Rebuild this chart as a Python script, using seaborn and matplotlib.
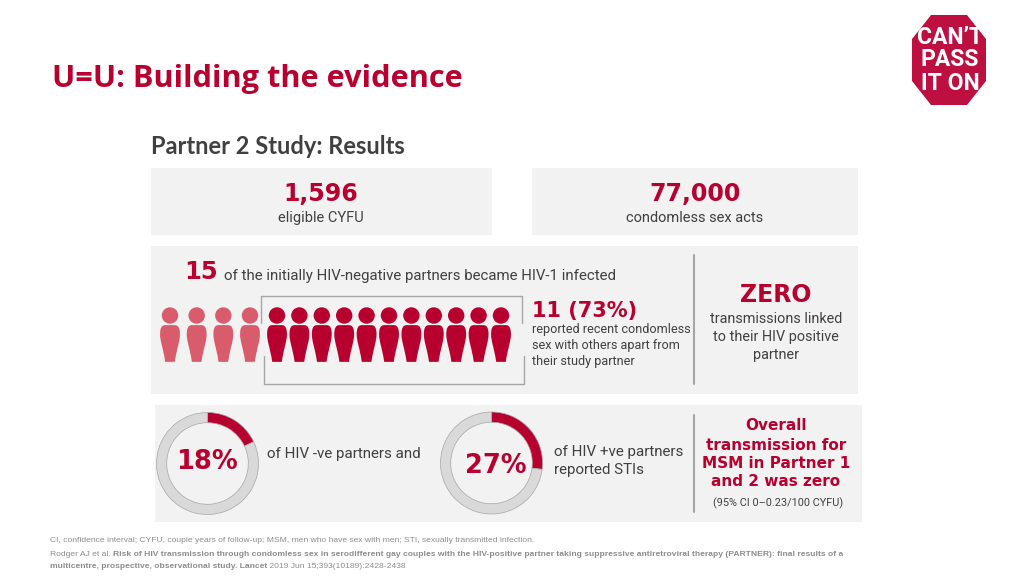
import matplotlib
matplotlib.use('Agg')
import matplotlib.pyplot as plt
from matplotlib.patches import Rectangle, Polygon
from matplotlib.path import Path
import numpy as np
import pandas as pd
import seaborn as sns

# values on the slide
eligible_cyfu = '1,596'
sex_acts = '77,000'
infected_total = 15
recent_condomless = 11
hiv_neg_sti_pct = 18
hiv_pos_sti_pct = 27

RED = '#B8002F'
LIGHT_RED = '#D95C6C'
PANEL = '#F2F2F2'
TEXT = '#404040'
GREY = '#A6A6A6'

sns.set_theme(style='white')
plt.rcParams['font.family'] = ['Roboto', 'DejaVu Sans']

W, H = 1024, 576
fig = plt.figure(figsize=(W / 100, H / 100), dpi=100, facecolor='white')

# whole figure is one axes in pixel units
ax = fig.add_axes([0, 0, 1, 1])
ax.set_xlim(0, W)
ax.set_ylim(H, 0)
ax.axis('off')

# panels
for x0, y0, x1, y1 in [(151, 168, 492, 235), (532, 168, 858, 235),
                       (151, 246, 858, 394), (155, 405, 862, 522)]:
    ax.add_patch(Rectangle((x0, y0), x1 - x0, y1 - y0, color=PANEL, lw=0, zorder=0))

# title
ax.text(52, 79.5, 'U=U: Building the evidence', color=RED, fontsize=22.15, fontweight='bold',
        family='Open Sans', va='center')
ax.text(151, 147, 'Partner 2 Study: Results', color=TEXT, fontsize=17, fontweight='bold',
        family='Lato', va='center')

# logo
cx, cy = 949, 60
lr, ls = 37, 18
ax.add_patch(Polygon([(cx - ls, cy - 45), (cx + ls, cy - 45), (cx + lr, cy - 21), (cx + lr, cy + 21),
                      (cx + ls, cy + 45), (cx - ls, cy + 45), (cx - lr, cy + 21), (cx - lr, cy - 21)],
                     color='#BE1040', lw=0))
for label, ly in [('CAN\u2019T', 37), ('PASS', 60), ('IT ON', 84)]:
    ax.text(cx + 1, ly, label, color='white', fontsize=16.5, fontweight='bold', family='Roboto',
            ha='center', va='center')

# top boxes
ax.text(321, 194, eligible_cyfu, color=RED, fontsize=17, fontweight='bold', family='DejaVu Sans',
        ha='center', va='center')
ax.text(321, 218, 'eligible CYFU', color=TEXT, fontsize=10.5, ha='center', va='center')
ax.text(695, 194, sex_acts, color=RED, fontsize=17, fontweight='bold', family='DejaVu Sans',
        ha='center', va='center')
ax.text(695, 218, 'condomless sex acts', color=TEXT, fontsize=10.5, ha='center', va='center')

# middle panel text
ax.text(184, 272, str(infected_total), color=RED, fontsize=17.5, fontweight='bold',
        family='DejaVu Sans', va='center')
ax.text(224, 276, 'of the initially HIV-negative partners became HIV-1 infected', color=TEXT,
        fontsize=10.85, va='center')
ax.text(532, 311, f'{recent_condomless} (73%)', color=RED, fontsize=15, fontweight='bold',
        family='DejaVu Sans', va='center')
for line, ly in zip(['reported recent condomless', 'sex with others apart from', 'their study partner'],
                    [330, 345.5, 361]):
    ax.text(532, ly, line, color=TEXT, fontsize=9.1, va='center')
ax.text(776, 295, 'ZERO', color=RED, fontsize=17, fontweight='bold', family='DejaVu Sans',
        ha='center', va='center')
for line, ly in zip(['transmissions linked', 'to their HIV positive', 'partner'], [319, 337, 355]):
    ax.text(776, ly, line, color=TEXT, fontsize=10.4, ha='center', va='center')

# people, the ones in the bracket are darker
M, C = Path.MOVETO, Path.CURVE4
body = Path([(-0.13, 0.5), (-0.24, 0.5), (-0.27, 0.4), (-0.27, 0.25),
             (-0.27, 0.05), (-0.19, -0.1), (-0.13, -0.5),
             (0.13, -0.5),
             (0.19, -0.1), (0.27, 0.05), (0.27, 0.25),
             (0.27, 0.4), (0.24, 0.5), (0.13, 0.5),
             (-0.13, 0.5)],
            [M, C, C, C, C, C, C, Path.LINETO, C, C, C, C, C, C, Path.CLOSEPOLY])
n_light = infected_total - recent_condomless
people = pd.DataFrame({
    'x': np.r_[np.linspace(170, 250, n_light), np.linspace(277, 501, recent_condomless)],
    'group': ['other'] * n_light + ['recent'] * recent_condomless,
})
palette = {'other': LIGHT_RED, 'recent': RED}
people['head_y'] = 315.5
people['body_y'] = 343.5
sns.scatterplot(data=people, x='x', y='head_y', hue='group', palette=palette, s=140, linewidth=0,
                legend=False, ax=ax, zorder=3)
sns.scatterplot(data=people, x='x', y='body_y', hue='group', palette=palette, s=700, marker=body,
                linewidth=0, legend=False, ax=ax, zorder=3)
ax.set_xlabel('')
ax.set_ylabel('')

# brackets and dividers
ax.plot([261, 261, 522, 522], [323, 296, 296, 323], color=GREY, lw=1)
ax.plot([264, 264, 524, 524], [356, 384, 384, 356], color=GREY, lw=1)
ax.plot([694, 694], [255, 384], color=GREY, lw=1.5)
ax.plot([694, 694], [415, 512], color=GREY, lw=1.5)


# STI rings
def ring(center_x, center_y, pct):
    r = 51
    a = fig.add_axes([(center_x - r) / W, 1 - (center_y + r) / H, 2 * r / W, 2 * r / H])
    a.pie([pct, 100 - pct], colors=[RED, '#D9D9D9'], startangle=90, counterclock=False, radius=1,
          wedgeprops=dict(width=0.2, edgecolor=GREY, linewidth=0.5))
    a.set_xlim(-1, 1)
    a.set_ylim(-1, 1)
    a.patch.set_alpha(0)


ring(207.5, 463.5, hiv_neg_sti_pct)
ring(491.5, 463, hiv_pos_sti_pct)

ax.text(207, 462, f'{hiv_neg_sti_pct}%', color=RED, fontsize=18.5, fontweight='bold',
        family='DejaVu Sans', ha='center', va='center')
ax.text(496, 466, f'{hiv_pos_sti_pct}%', color=RED, fontsize=18.5, fontweight='bold',
        family='DejaVu Sans', ha='center', va='center')
ax.text(267, 454, 'of HIV -ve partners and', color=TEXT, fontsize=10.9, va='center')
ax.text(554, 452, 'of HIV +ve partners', color=TEXT, fontsize=10.9, va='center')
ax.text(554, 470, 'reported STIs', color=TEXT, fontsize=10.9, va='center')

for line, ly in zip(['Overall', 'transmission for', 'MSM in Partner 1', 'and 2 was zero'],
                    [426, 445, 463, 482]):
    ax.text(776, ly, line, color=RED, fontsize=11, fontweight='bold', family='DejaVu Sans',
            ha='center', va='center')
ax.text(778, 503, '(95% CI 0\u20130.23/100 CYFU)', color=TEXT, fontsize=7.8, ha='center', va='center')

# footnotes
FOOT = '#8C8C8C'
FS = 6.1
ax.text(50, 540, 'CI, confidence interval; CYFU, couple years of follow-up; MSM, men who have sex with men; '
        'STI, sexually transmitted infection.', color=FOOT, fontsize=FS, family='Liberation Sans', va='center')
t = ax.text(50, 555, 'Rodger AJ et al. ', color=FOOT, fontsize=FS, family='Liberation Sans', va='center')
ax.annotate('Risk of HIV transmission through condomless sex in serodifferent gay couples with the '
            'HIV-positive partner taking suppressive antiretroviral therapy (PARTNER): final results of a',
            xy=(1, 0.5), xycoords=t, va='center', color=FOOT, fontsize=FS, fontweight='bold',
            family='Liberation Sans')
t2 = ax.text(50, 566, 'multicentre, prospective, observational study. Lancet', color=FOOT, fontsize=FS,
             fontweight='bold', family='Liberation Sans', va='center')
ax.annotate(' 2019 Jun 15;393(10189):2428-2438', xy=(1, 0.5), xycoords=t2, va='center', color=FOOT,
            fontsize=FS, family='Liberation Sans')

fig.savefig('out.png', dpi=100)
